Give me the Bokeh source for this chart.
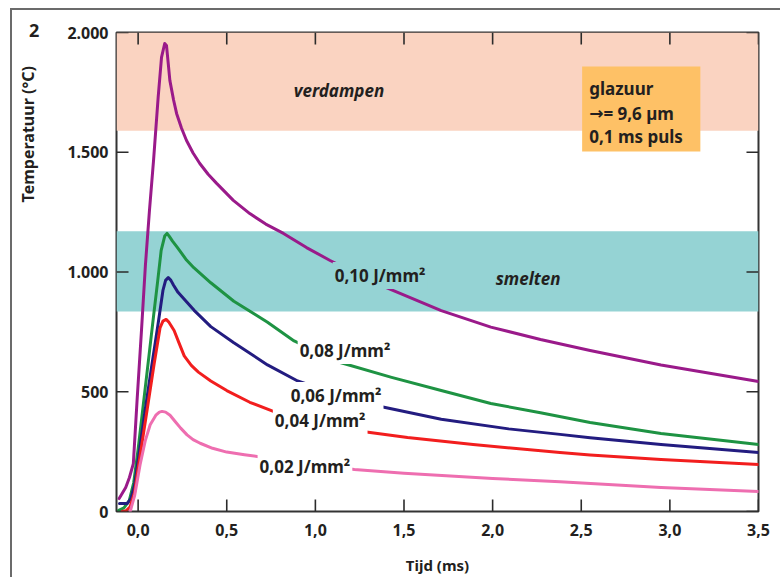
import math
from bokeh.plotting import figure
from bokeh.models import Range1d, FixedTicker, Label
from bokeh.embed import file_html
from bokeh.resources import INLINE

# ---- data ----
t_010 = [-0.107, -0.07, -0.049, -0.027, -0.006, 0.019, 0.041, 0.064, 0.087, 0.113, 0.132, 0.150, 0.16,
         0.17, 0.179, 0.2, 0.217, 0.245, 0.273, 0.31, 0.348, 0.395, 0.443, 0.537, 0.63, 0.72, 0.82,
         0.95, 1.083, 1.37, 1.71, 1.99, 2.27, 2.55, 2.95, 3.5]
T_010 = [54, 100, 142, 200, 463, 756, 1027, 1257, 1466, 1729, 1896, 1954, 1946,
         1870, 1800, 1718, 1662, 1600, 1549, 1497, 1453, 1408, 1370, 1299, 1244, 1200, 1161,
         1102, 1048, 944, 839, 770, 718, 672, 612, 543]

t_008 = [-0.11, -0.08, -0.05, -0.025, 0.0, 0.05, 0.088, 0.11, 0.13, 0.15, 0.163, 0.175, 0.195, 0.22,
         0.273, 0.314, 0.41, 0.54, 0.73, 0.88, 1.14, 1.43, 1.71, 1.99, 2.27, 2.55, 2.95, 3.5]
T_008 = [5, 15, 45, 120, 260, 579, 822, 960, 1090, 1150, 1161, 1150, 1128, 1104,
         1050, 1018, 955, 878, 790, 712, 622, 560, 505, 451, 412, 372, 326, 280]

t_006 = [-0.105, -0.062, -0.04, -0.02, 0.0, 0.045, 0.073, 0.113, 0.14, 0.155, 0.17, 0.185, 0.2, 0.225,
         0.316, 0.41, 0.54, 0.73, 0.9, 1.26, 1.71, 2.09, 2.38, 2.55, 2.95, 3.5]
T_006 = [33, 33, 55, 110, 215, 450, 590, 785, 923, 965, 977, 965, 945, 915,
         840, 772, 705, 612, 545, 455, 385, 345, 322, 308, 280, 246]

t_004 = [-0.09, -0.068, -0.045, -0.02, 0.0, 0.056, 0.09, 0.124, 0.14, 0.158, 0.172, 0.203, 0.23, 0.26,
         0.3, 0.34, 0.41, 0.5, 0.63, 0.763, 1.14, 1.52, 1.89, 2.38, 2.55, 2.95, 3.5]
T_004 = [0, 3, 20, 80, 180, 450, 615, 768, 795, 802, 792, 756, 705, 650,
         610, 582, 545, 505, 456, 418, 347, 309, 280, 246, 236, 217, 196]

t_002 = [-0.045, -0.02, 0.011, 0.04, 0.068, 0.1, 0.12, 0.135, 0.155, 0.18, 0.21, 0.24, 0.276, 0.31,
         0.35, 0.42, 0.5, 0.6, 0.69, 1.22, 1.5, 2.0, 2.38, 2.95, 3.5]
T_002 = [0, 65, 195, 295, 362, 402, 415, 418, 415, 402, 375, 348, 320, 300,
         285, 264, 248, 237, 228, 175, 160, 138, 124, 100, 84]

series_labels = ["0,10 J/mm²", "0,08 J/mm²", "0,06 J/mm²", "0,04 J/mm²", "0,02 J/mm²"]
series_colors = ["#9A1A8A", "#1E9343", "#231C80", "#F21E1E", "#EE6EB0"]

x_ticks = [0, 0.5, 1, 1.5, 2, 2.5, 3, 3.5]
x_tick_labels = ["0,0", "0,5", "1,0", "1,5", "2,0", "2,5", "3,0", "3,5"]
y_ticks = [0, 500, 1000, 1500, 2000]
y_tick_labels = ["0", "500", "1.000", "1.500", "2.000"]

band_verdampen = (1590, 2000)
band_smelten = (835, 1170)
info_lines = ["glazuur", "→", "= 9,6 µm", "0,1 ms puls"]

FONT = "Noto Sans"
TXT = "#231F20"
TICK = "#2b2b2b"
X0, X1 = -0.122, 3.5
Y0, Y1 = 0, 2000

p = figure(width=770, height=569, x_range=Range1d(X0, X1), y_range=Range1d(Y0, Y1),
           output_backend="svg", toolbar_location=None,
           min_border_left=104, min_border_right=24, min_border_top=22, min_border_bottom=68)
p.styles = {"margin-left": "10px", "margin-top": "8px",
            "border-left": "2px solid #6b6b6b", "border-top": "2px solid #6b6b6b"}
p.title.visible = False
p.xgrid.visible = False
p.ygrid.visible = False
p.outline_line_color = "#333333"
p.outline_line_width = 2
p.outline_line_alpha = 1.0
p.background_fill_color = "white"
p.border_fill_color = "white"

def style_axis(ax, ticks, labels):
    ax.ticker = FixedTicker(ticks=ticks)
    ax.major_label_overrides = {k: v for k, v in zip(ticks, labels)}
    ax.axis_line_color = None
    ax.minor_tick_line_color = None
    ax.major_tick_in = 0
    ax.major_tick_out = 0
    ax.major_tick_line_color = None
    ax.major_label_text_font = FONT
    ax.major_label_text_font_style = "bold"
    ax.major_label_text_font_size = "16px"
    ax.major_label_text_color = TXT

style_axis(p.xaxis[0], x_ticks, x_tick_labels)
style_axis(p.yaxis[0], y_ticks, y_tick_labels)
p.xaxis[0].major_label_standoff = 12
p.yaxis[0].major_label_standoff = 8
p.xaxis[0].axis_label = "Tijd (ms)"
p.xaxis[0].axis_label_text_font = FONT
p.xaxis[0].axis_label_text_font_style = "bold"
p.xaxis[0].axis_label_text_font_size = "15px"
p.xaxis[0].axis_label_text_color = TXT
p.xaxis[0].axis_label_standoff = 16

# bands
p.quad(left=[X0], right=[X1], bottom=[band_verdampen[0]], top=[band_verdampen[1]],
       fill_color="#FAD3C1", line_color=None)
p.quad(left=[X0], right=[X1], bottom=[band_smelten[0]], top=[band_smelten[1]],
       fill_color="#95D3D4", line_color=None)

# info box
p.quad(left=[2.505], right=[3.172], bottom=[1503], top=[1858], fill_color="#FEC166", line_color=None)
info_pos = [(2.545, 1766), (2.545, 1662), (2.625, 1662), (2.545, 1566)]
for txt, (ix, iy) in zip(info_lines, info_pos):
    fnt = "DejaVu Sans" if txt == "→" else FONT
    p.add_layout(Label(x=ix, y=iy, text=txt, text_font=fnt, text_font_style="bold",
                       text_font_size="17px", text_color=TXT, text_baseline="alphabetic",
                       text_align="left"))

# curves
all_t = [t_010, t_008, t_006, t_004, t_002]
all_T = [T_010, T_008, T_006, T_004, T_002]
for tt, TT, c in zip(all_t, all_T, series_colors):
    p.line(tt, TT, line_color=c, line_width=3, line_join="round", line_cap="round")

# inward tick marks on all four sides, placed from the tick arrays
TL = 12
dx_tick = TL / 176.9
dy_tick = TL / 0.2395
n_x = len(x_ticks)
n_y = len(y_ticks)
p.rect(x=x_ticks * 2, y=[Y0 + dy_tick / 2] * n_x + [Y1 - dy_tick / 2] * n_x,
       width=1.6, height=TL, width_units="screen", height_units="screen",
       fill_color=TICK, line_color=None)
p.rect(x=[X0 + dx_tick / 2] * n_y + [X1 - dx_tick / 2] * n_y, y=y_ticks * 2,
       width=TL, height=1.6, width_units="screen", height_units="screen",
       fill_color=TICK, line_color=None)

# curve labels
label_pos = [(1.098, 985), (0.90, 672), (0.85, 484), (0.76, 380), (0.674, 188)]
label_bg = ["#95D3D4", "white", "white", "white", "white"]
for txt, (lx, ly), bg in zip(series_labels, label_pos, label_bg):
    p.add_layout(Label(x=lx, y=ly, text=txt, text_font=FONT, text_font_style="bold",
                       text_font_size="17px", text_color=TXT, text_baseline="middle",
                       text_align="left", background_fill_color=bg, padding=2))

# band labels
p.add_layout(Label(x=1.133, y=1758, text="verdampen", text_font=FONT, text_font_style="bold italic",
                   text_font_size="17px", text_color=TXT, text_align="center", text_baseline="middle"))
p.add_layout(Label(x=2.20, y=973, text="smelten", text_font=FONT, text_font_style="bold italic",
                   text_font_size="17px", text_color=TXT, text_align="center", text_baseline="middle"))

# y title & figure number (side panel, so not clipped to the frame)
p.add_layout(Label(x=-0.62, y=1575, text="Temperatuur (°C)", angle=math.pi / 2, text_font=FONT,
                   text_font_style="bold", text_font_size="16px", text_color=TXT,
                   text_align="center", text_baseline="middle"), "left")
p.add_layout(Label(x=-0.586, y=2008, text="2", text_font=FONT, text_font_style="bold",
                   text_font_size="18px", text_color=TXT, text_align="center",
                   text_baseline="middle"), "left")

open("out.html", "w").write(file_html(p, INLINE))
